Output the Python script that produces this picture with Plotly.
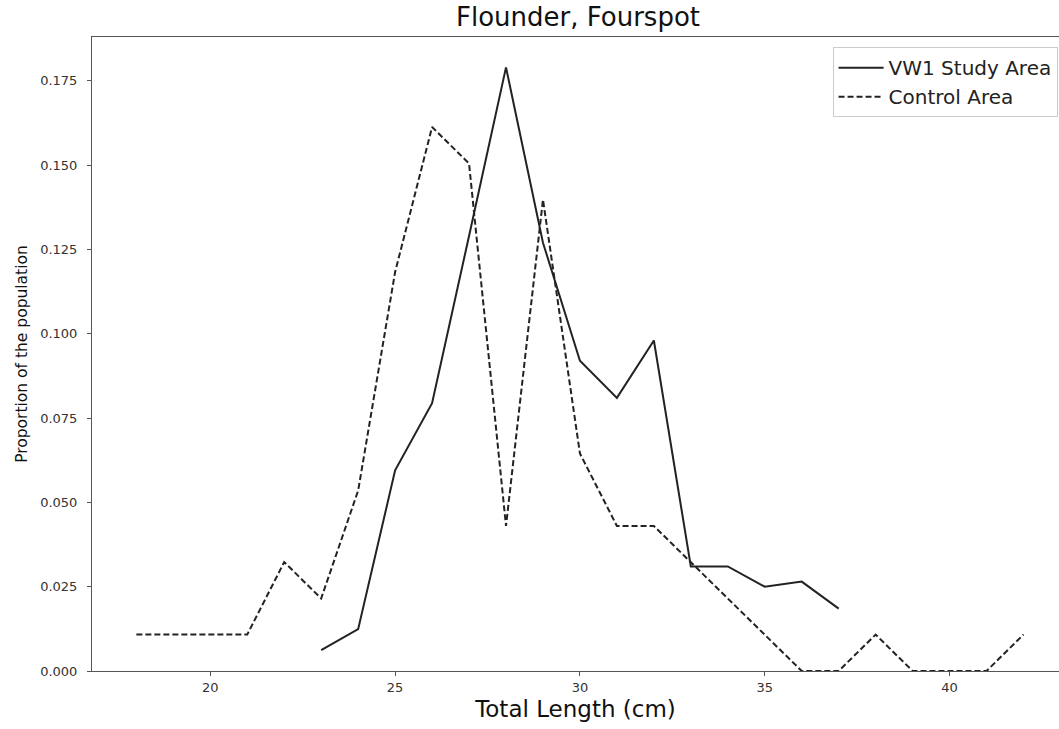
import plotly.graph_objects as go

# ---- data ----
study_lengths = list(range(23, 38))
study_props = [0.0062, 0.0124, 0.0595, 0.0794, 0.129, 0.179, 0.127, 0.092,
               0.081, 0.098, 0.031, 0.031, 0.025, 0.0265, 0.0185]

control_lengths = list(range(18, 43))
control_props = [0.0108, 0.0108, 0.0108, 0.0108, 0.0323, 0.0215, 0.0535, 0.1183,
                 0.1613, 0.1505, 0.0430, 0.1398, 0.0645, 0.0430, 0.0430, 0.0323,
                 0.0215, 0.0108, 0.0, 0.0, 0.0108, 0.0, 0.0, 0.0, 0.0108]

x_ticks = [20, 25, 30, 35, 40]
y_ticks = [0.0, 0.025, 0.05, 0.075, 0.1, 0.125, 0.15, 0.175]

FONT = "DejaVu Sans"
LINE = "#222222"
AX = "#555555"

fig = go.Figure()
fig.add_trace(go.Scatter(x=study_lengths, y=study_props, mode="lines",
                         name="VW1 Study Area",
                         line=dict(color=LINE, width=2)))
fig.add_trace(go.Scatter(x=control_lengths, y=control_props, mode="lines",
                         name="Control Area",
                         line=dict(color=LINE, width=2, dash="6px,3px")))

fig.update_layout(
    width=1059, height=729,
    margin=dict(l=92, r=0, t=37, b=58),
    paper_bgcolor="white", plot_bgcolor="white",
    font=dict(family=FONT, color="#222222"),
    showlegend=True,
    legend=dict(x=0.9985, xanchor="right", y=0.984, yanchor="top",
                bgcolor="white", bordercolor="#cccccc", borderwidth=1,
                font=dict(size=20, family=FONT), itemwidth=45,
                tracegroupgap=2),
    annotations=[dict(text="Flounder, Fourspot", xref="paper", yref="paper",
                      x=0.503, y=1.0, yanchor="bottom", yshift=3,
                      showarrow=False, font=dict(size=26, family=FONT, color="#111111"))],
)

fig.update_xaxes(
    range=[16.8, 42.96], tickvals=x_ticks, ticktext=[str(v) for v in x_ticks],
    showgrid=False, zeroline=False, showline=True, linecolor=AX, linewidth=1,
    mirror=True, ticks="outside", ticklen=4, tickcolor=AX,
    tickfont=dict(size=13, family=FONT, color="#333333"),
    title=dict(text="Total Length (cm)", font=dict(size=23, family=FONT, color="#111111"),
               standoff=7),
)
fig.update_yaxes(
    range=[0, 0.188], tickvals=y_ticks, tickformat=".3f",
    showgrid=False, zeroline=False, showline=True, linecolor=AX, linewidth=1,
    mirror=False, ticks="outside", ticklen=4, tickcolor=AX, ticklabelstandoff=7,
    tickfont=dict(size=13, family=FONT, color="#333333"),
    title=dict(text="Proportion of the population",
               font=dict(size=15.5, family=FONT, color="#111111"), standoff=8),
)

fig.write_html("out.html")
